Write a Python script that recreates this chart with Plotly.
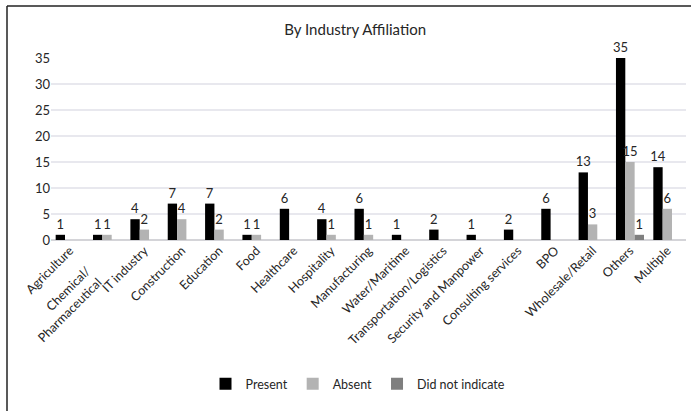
import plotly.graph_objects as go

NB = "\u00a0"
categories = ["Agriculture", "Chemical/" + NB * 9 + "<br>Pharmaceutical" + NB * 9, "IT industry", "Construction", "Education",
              "Food", "Healthcare", "Hospitality", "Manufacturing", "Water/Maritime",
              "Transportation/Logistics", "Security and Manpower", "Consulting services", "BPO",
              "Wholesale/Retail", "Others", "Multiple"]
present = [1, 1, 4, 7, 7, 1, 6, 4, 6, 1, 2, 1, 2, 6, 13, 35, 14]
absent = [None, 1, 2, 4, 2, 1, None, 1, 1, None, None, None, None, None, 3, 15, 6]
not_indicated = [None, None, None, None, None, None, None, None, None, None, None, None, None, None, None, 1, None]
y_ticks = [0, 5, 10, 15, 20, 25, 30, 35]

FONT = "Lato"
L, R, T, B = 51, 5, 58, 171
W, H = 691, 411
pw, ph = W - L - R, H - T - B

def px_to_paper(x, y):
    return (x - L) / pw, (H - B - y) / ph

fig = go.Figure()
series = [("Present", present, "#000000"), ("Absent", absent, "#b3b3b3"), ("Did not indicate", not_indicated, "#7f7f7f")]
for name, vals, col in series:
    fig.add_trace(go.Bar(
        x=categories, y=vals, name=name, marker=dict(color=col, line=dict(width=0)),
        text=[("" if v is None else str(v)) for v in vals], textposition="outside",
        constraintext="none",
        textfont=dict(family=FONT, size=13, color="#262626"), cliponaxis=False,
    ))

x0, y0 = px_to_paper(7, 6)
x1, _ = px_to_paper(691, 6)
_, y1 = px_to_paper(7, 411)
shapes = [
    dict(type="line", xref="paper", yref="paper", x0=x0, y0=y0, x1=x1, y1=y0, line=dict(color="#222222", width=1.5)),
    dict(type="line", xref="paper", yref="paper", x0=x0, y0=y0, x1=x0, y1=y1, line=dict(color="#222222", width=1.5)),
]

lx, ly = px_to_paper(358, 384)
fig.update_layout(
    width=W, height=H, margin=dict(l=L, r=R, t=T, b=B),
    paper_bgcolor="white", plot_bgcolor="white",
    barmode="group", bargap=0.25, bargroupgap=0,
    title=dict(text="By Industry Affiliation", x=0.514, xref="container", y=1 - 30 / H, yref="container",
               xanchor="center", yanchor="middle", font=dict(family=FONT, size=15, color="#262626")),
    font=dict(family=FONT, size=13, color="#262626"),
    xaxis=dict(tickangle=-45, showgrid=False, showline=False, ticks="", tickfont=dict(family=FONT, size=12.5, color="#262626")),
    yaxis=dict(range=[0, 35], tickvals=y_ticks, showgrid=True, gridcolor="#e8e8ee", gridwidth=1.5,
               zeroline=True, zerolinecolor="#d4d4d8", zerolinewidth=2, ticks="",
               tickfont=dict(family=FONT, size=13, color="#262626")),
    legend=dict(orientation="h", x=lx, y=ly, xanchor="center", yanchor="middle",
                font=dict(family=FONT, size=12.5, color="#262626"), itemwidth=30, traceorder="normal"),
    shapes=shapes,
)
fig.write_html("out.html")
